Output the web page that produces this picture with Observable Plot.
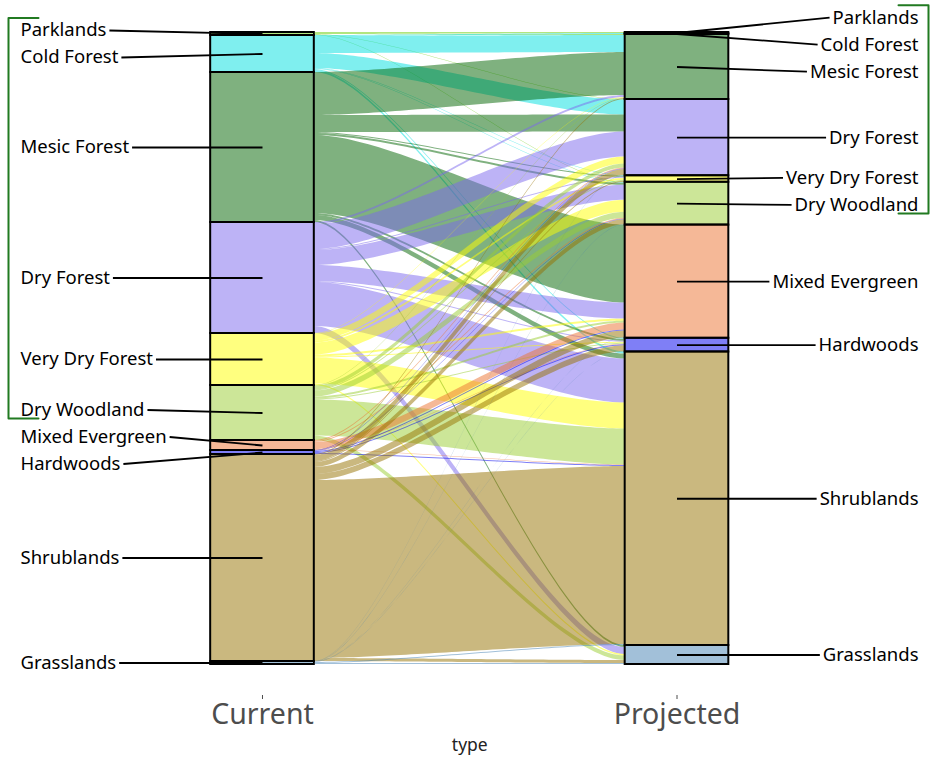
<!DOCTYPE html>
<html><head><meta charset="utf-8">
<script src="https://cdn.jsdelivr.net/npm/d3@7"></script>
<script src="https://cdn.jsdelivr.net/npm/@observablehq/plot@0.6"></script>
<style>body{margin:0;background:#fff;font-family:"Noto Sans",sans-serif}</style>
</head><body><div id="chart"></div>
<script>
// ---- data ----
const categories = ["Parklands","Cold Forest","Mesic Forest","Dry Forest","Very Dry Forest","Dry Woodland","Mixed Evergreen","Hardwoods","Shrublands","Grasslands"];
const palette = ["#66cc00","#00e0e0","#006400","#7b68ee","#ffff00","#9acd32","#eb712f","#0000ee","#957100","#4682b4"];
const periods = ["Current","Projected"];
const axisTitle = "type";
const bracketed = ["Parklands","Cold Forest","Mesic Forest","Dry Forest","Very Dry Forest","Dry Woodland"];
// flows: current type (row) -> projected type (columns in category order)
const fromParklands      = [1, 0, 1, 0.5, 0, 0.5, 0, 0, 0, 0];
const fromColdForest     = [0, 1, 17, 15, 0.5, 0.5, 0, 1, 2, 0];
const fromMesicForest    = [0, 0, 43, 17, 1, 2, 78, 2, 5, 2];
const fromDryForest      = [0, 0, 2, 25, 1, 15, 16, 1, 44, 7];
const fromVeryDryForest  = [0, 0, 0.5, 7, 2, 12, 2, 1, 26, 1.5];
const fromDryWoodland    = [0, 0, 0.5, 4, 1, 6, 2, 1, 36, 4.5];
const fromMixedEvergreen = [0, 0, 0, 1, 0, 1, 7, 0.5, 0.5, 0];
const fromHardwoods      = [0, 0, 0, 0.5, 0, 0.5, 1, 1, 1, 0];
const fromShrublands     = [0, 0, 1, 6, 1, 5, 7, 6, 178, 3];
const fromGrasslands     = [0, 0, 0, 0.3, 0, 0.3, 0.2, 0.2, 1, 1];
const flowRows = [fromParklands, fromColdForest, fromMesicForest, fromDryForest, fromVeryDryForest,
  fromDryWoodland, fromMixedEvergreen, fromHardwoods, fromShrublands, fromGrasslands];

// ---- layout (derived) ----
const W = 935, H = 763;
const labelSize = 18.5;
const xDomain = [0.4162, 2.5826];
const ppu = (W - 20 - 17) / (xDomain[1] - xDomain[0]);
const barHalf = 0.125;
const total = d3.sum(flowRows.flat());
const pxY = total / 632; // data units per pixel
const n = categories.length;

// strata
const strata = [];
const leftTop = [], rightTop = [];
let acc = 0;
for (let i = 0; i < n; i++) { const v = d3.sum(flowRows[i]); leftTop.push(acc); strata.push({side:0, name:categories[i], y1:acc, y2:acc+v}); acc += v; }
acc = 0;
for (let j = 0; j < n; j++) { const v = d3.sum(flowRows, r => r[j]); rightTop.push(acc); strata.push({side:1, name:categories[j], y1:acc, y2:acc+v}); acc += v; }

// flows
const flows = [];
const lOff = leftTop.slice(), rOff = rightTop.slice();
const lPos = {}, rPos = {};
for (let i = 0; i < n; i++) for (let j = 0; j < n; j++) {
  const v = flowRows[i][j]; if (!v) continue;
  lPos[i+"-"+j] = lOff[i]; lOff[i] += v;
}
for (let j = 0; j < n; j++) for (let i = 0; i < n; i++) {
  const v = flowRows[i][j]; if (!v) continue;
  rPos[i+"-"+j] = rOff[j]; rOff[j] += v;
}
const xL = 1 + barHalf, xR = 2 - barHalf;
const N = 60;
let fid = 0;
for (let i = 0; i < n; i++) for (let j = 0; j < n; j++) {
  const v = flowRows[i][j]; if (!v) continue;
  const a = lPos[i+"-"+j], b = rPos[i+"-"+j];
  for (let k = 0; k <= N; k++) {
    const t = k / N;
    const u = 3*(1-t)*(1-t)*t*0.25 + 3*(1-t)*t*t*0.75 + t*t*t;
    const s = 3*(1-t)*t*t + t*t*t;
    flows.push({id: fid, origin: categories[i], x: xL + (xR - xL)*u, y1: a + (b - a)*s, y2: a + v + (b - a)*s});
  }
  fid++;
}

// labels with simple repel
function repel(c, gap) {
  const p = c.slice();
  for (let it = 0; it < 1000; it++) {
    let moved = false;
    for (let i = 1; i < p.length; i++) {
      const d = p[i] - p[i-1];
      if (d < gap - 1e-6) { const s = (gap - d) / 2; p[i-1] -= s; p[i] += s; moved = true; }
    }
    if (!moved) break;
  }
  return p;
}
const ctx = document.createElement("canvas").getContext("2d");
ctx.font = labelSize + "px 'Noto Sans'";
const labels = [];
for (const side of [0,1]) {
  const st = strata.filter(d => d.side === side);
  const centers = st.map(d => (d.y1 + d.y2)/2);
  const ly = repel(centers, 27 * pxY);
  st.forEach((d, k) => {
    const w = ctx.measureText(d.name).width + 3;
    labels.push({side, name: d.name, cy: centers[k], ly: ly[k],
      tx: side ? xDomain[1] : xDomain[0],
      lx: side ? xDomain[1] - w/ppu : xDomain[0] + w/ppu,
      bx: side ? 2 : 1});
  });
}
const leftLabels = labels.filter(d => d.side === 0);
const rightLabels = labels.filter(d => d.side === 1);
// brackets
const brackets = [];
for (const side of [0,1]) {
  const L = labels.filter(d => d.side === side && bracketed.includes(d.name));
  const top = d3.min(L, d => d.ly) - 12.5*pxY, bot = d3.max(L, d => d.ly) + 8.5*pxY;
  const xo = side ? xDomain[1] + 10/ppu : xDomain[0] - 12/ppu;
  const xi = side ? xo - 30/ppu : xo + 30/ppu;
  [[xi, top], [xo, top], [xo, bot], [xi, bot]].forEach(([x, y]) => brackets.push({side, x, y}));
}

const chart = Plot.plot({
  width: W, height: H,
  marginLeft: 20, marginRight: 17, marginTop: 32, marginBottom: 68,
  style: {fontFamily: "'Noto Sans', sans-serif", background: "#fff"},
  x: {domain: xDomain, axis: null},
  y: {domain: [0, total], range: [32, 664], axis: null},
  color: {domain: categories, range: palette},
  marks: [
    Plot.area(flows, {x1: "x", y1: "y1", y2: "y2", z: "id", fill: "origin", fillOpacity: 0.5}),
    Plot.rect(strata, {x1: d => d.side + 1 - barHalf, x2: d => d.side + 1 + barHalf, y1: "y1", y2: "y2",
      fill: "name", fillOpacity: 0.5, stroke: "black", strokeWidth: 2}),
    Plot.link(labels, {x1: "bx", y1: "cy", x2: "lx", y2: "ly", stroke: "black", strokeWidth: 1.8}),
    Plot.text(leftLabels, {x: "tx", y: "ly", text: "name", textAnchor: "start", fontSize: labelSize, fill: "black"}),
    Plot.text(rightLabels, {x: "tx", y: "ly", text: "name", textAnchor: "end", fontSize: labelSize, fill: "black"}),
    Plot.line(brackets, {x: "x", y: "y", z: "side", stroke: "#217a21", strokeWidth: 2}),
    Plot.axisX({ticks: [1, 2], tickFormat: d => periods[d - 1], fontSize: 28.5, tickSize: 4,
      tickPadding: 4, color: "#4d4d4d", label: null}),
    Plot.text([axisTitle], {x: 1.5, frameAnchor: "bottom", dy: 55, fontSize: 17.5, fill: "#222"})
  ]
});
document.getElementById("chart").appendChild(chart);
</script>
</body></html>
